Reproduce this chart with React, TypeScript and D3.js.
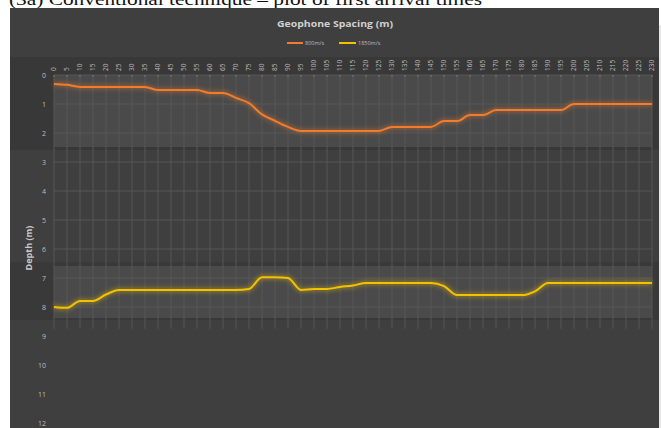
import React from 'react';
import * as d3 from 'd3';

// geophone spacing (m) – category ticks along the top axis
const spacing = [
  0, 5, 10, 15, 20, 25, 30, 35, 40, 45, 50, 55, 60, 65, 70, 75, 80, 85, 90, 95,
  100, 105, 110, 115, 120, 125, 130, 135, 140, 145, 150, 155, 160, 165, 170, 175,
  180, 185, 190, 195, 200, 205, 210, 215, 220, 225, 230,
];

// depth (m) of the 800 m/s layer
const depth800 = [
  0.31, 0.34, 0.41, 0.41, 0.41, 0.41, 0.41, 0.41, 0.52, 0.52, 0.52, 0.52, 0.62, 0.62,
  0.79, 0.97, 1.36, 1.58, 1.79, 1.93, 1.93, 1.93, 1.93, 1.93, 1.93, 1.93, 1.79, 1.79,
  1.79, 1.79, 1.59, 1.59, 1.38, 1.38, 1.21, 1.21, 1.21, 1.21, 1.21, 1.21, 1.0, 1.0,
  1.0, 1.0, 1.0, 1.0, 1.0,
];

// depth (m) of the 1850 m/s layer
const depth1850 = [
  8.0, 8.03, 7.79, 7.79, 7.57, 7.41, 7.41, 7.41, 7.41, 7.41, 7.41, 7.41, 7.41, 7.41,
  7.41, 7.38, 6.97, 6.97, 7.0, 7.41, 7.38, 7.38, 7.31, 7.26, 7.17, 7.17, 7.17, 7.17,
  7.17, 7.17, 7.28, 7.59, 7.59, 7.59, 7.59, 7.59, 7.59, 7.46, 7.17, 7.17, 7.17, 7.17,
  7.17, 7.17, 7.17, 7.17, 7.17,
];

const depthTicks = [0, 1, 2, 3, 4, 5, 6, 7, 8, 9, 10, 11, 12];
const gridDepths = [0, 1, 2, 3, 4, 5, 6, 7, 8];

const series = [
  { name: '800m/s', values: depth800, color: '#f07c2c' },
  { name: '1850m/s', values: depth1850, color: '#f2c100' },
];

const W = 661;
const H = 428;

export default function App() {
  const x = d3.scaleLinear().domain([0, 230]).range([54, 652]);
  const y = d3.scaleLinear().domain([0, 12]).range([75, 423]);

  const line = d3
    .line<number>()
    .x((_, i) => x(spacing[i]))
    .y((d) => y(d))
    .curve(d3.curveMonotoneX);

  const gridBottom = y(8.75);

  return (
    <svg
      width={W}
      height={H}
      style={{ position: 'fixed', left: 0, top: 0, background: '#fff' }}
    >
      <defs>
        <filter id="glow" x="-5%" y="-50%" width="110%" height="200%">
          <feGaussianBlur stdDeviation="2.2" />
        </filter>
      </defs>

      {/* caption above the picture */}
      <text
        x={9}
        y={5}
        fontFamily="'Liberation Serif', serif"
        fontSize={17}
        textLength={473}
        lengthAdjust="spacingAndGlyphs"
        fill="#111"
      >
        (3a) Conventional technique – plot of first arrival times
      </text>

      {/* chart background */}
      <rect x={10} y={8} width={649} height={H - 8} fill="#3f3f3f" />
      <rect x={659} y={25} width={2} height={H - 25} fill="#e6e6e6" />

      {/* overlay bands around the two traces */}
      <rect x={10} y={57} width={649} height={93} fill="#383838" />
      <rect x={54} y={75} width={598} height={72} fill="#4a4a4a" />
      <rect x={10} y={262} width={649} height={58} fill="#393939" />
      <rect x={54} y={266} width={598} height={52} fill="#4a4a4a" />

      {/* gridlines */}
      <g stroke="#575757" strokeWidth={1}>
        {spacing.map((s) => (
          <line key={'v' + s} x1={x(s)} x2={x(s)} y1={y(0)} y2={gridBottom} />
        ))}
        {gridDepths.map((d) => (
          <line key={'h' + d} x1={x(0)} x2={x(230)} y1={y(d)} y2={y(d)} />
        ))}
      </g>

      {/* tick marks on top axis */}
      <g stroke="#777" strokeWidth={1}>
        {spacing.map((s) => (
          <line key={'t' + s} x1={x(s)} x2={x(s)} y1={y(0)} y2={y(0) + 2} />
        ))}
      </g>

      {/* top axis labels */}
      <g fontFamily="'Open Sans', sans-serif" fontSize={6.5} fill="#bdbdbd">
        {spacing.map((s) => (
          <text
            key={'xl' + s}
            transform={`translate(${x(s) + 2},71) rotate(-90)`}
            textAnchor="start"
          >
            {s}
          </text>
        ))}
      </g>

      {/* depth labels */}
      <g fontFamily="'Open Sans', sans-serif" fontSize={7} fill="#bdbdbd" textAnchor="end">
        {depthTicks.map((d) => (
          <text key={'yl' + d} x={46} y={y(d) + 2.5}>
            {d}
          </text>
        ))}
      </g>

      {/* axis titles */}
      <text
        x={335}
        y={27}
        textAnchor="middle"
        fontFamily="'Open Sans', sans-serif"
        fontWeight="bold"
        fontSize={9.5}
        textLength={116}
        lengthAdjust="spacingAndGlyphs"
        fill="#d0d0d0"
      >
        Geophone Spacing (m)
      </text>
      <text
        transform="translate(32,248) rotate(-90)"
        textAnchor="middle"
        fontFamily="'Open Sans', sans-serif"
        fontWeight="bold"
        fontSize={9}
        fill="#c8c8c8"
      >
        Depth (m)
      </text>

      {/* legend */}
      <g fontFamily="'Open Sans', sans-serif" fontSize={5.5} fill="#bdbdbd">
        <line x1={287} x2={303} y1={43} y2={43} stroke={series[0].color} strokeWidth={2} />
        <text x={305} y={45}>{series[0].name}</text>
        <line x1={339} x2={356} y1={43} y2={43} stroke={series[1].color} strokeWidth={2} />
        <text x={358} y={45}>{series[1].name}</text>
      </g>

      {/* traces */}
      {series.map((sr) => (
        <g key={sr.name}>
          <path
            d={line(sr.values) || ''}
            fill="none"
            stroke={sr.color}
            strokeWidth={5}
            opacity={0.35}
            filter="url(#glow)"
          />
          <path d={line(sr.values) || ''} fill="none" stroke={sr.color} strokeWidth={2} />
        </g>
      ))}
    </svg>
  );
}
